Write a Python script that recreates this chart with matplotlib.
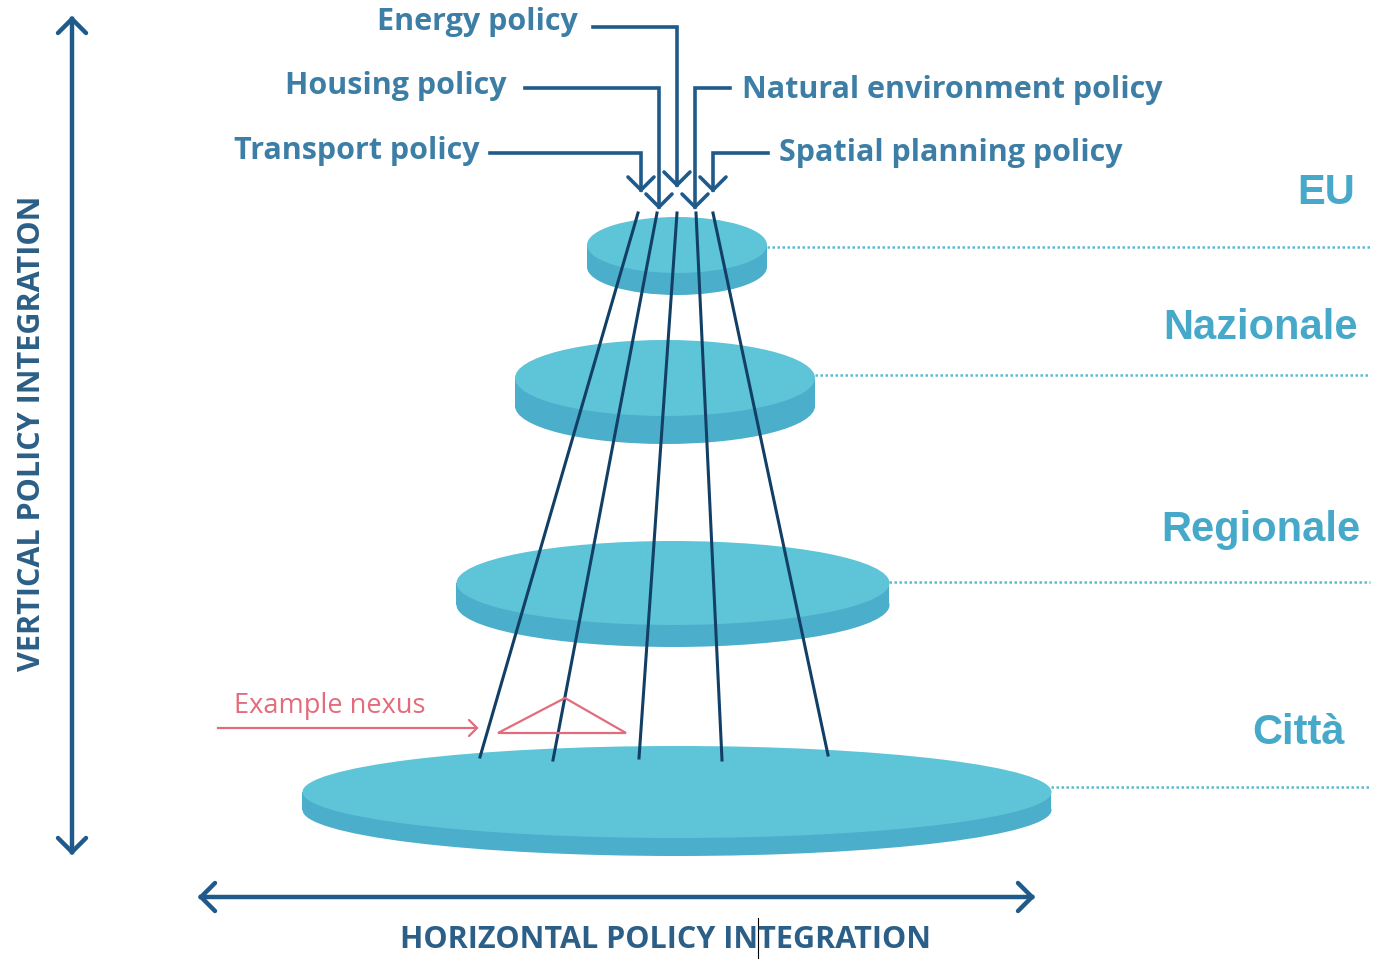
import numpy as np
import matplotlib.pyplot as plt
from matplotlib.patches import Ellipse, Rectangle, Polygon

# livelli di governo (dischi)
levels = ['EU', 'Nazionale', 'Regionale', 'Città']
disc_cx = [677, 665, 673, 677]
disc_cy = [245, 378, 583, 792]
disc_w = [180, 300, 433, 749]
disc_h = [56, 76, 84, 92]
disc_t = [22, 28, 22, 18]
label_x = [1355, 1358, 1360, 1345]
label_y = [193, 328, 530, 733]
dot_y = [247, 375, 582, 787]

# politiche settoriali
policies = ['Energy policy', 'Housing policy', 'Transport policy',
            'Natural environment policy', 'Spatial planning policy']
pol_side = ['left', 'left', 'left', 'right', 'right']
pol_text_x = [578, 507, 480, 742, 779]
pol_text_y = [22, 86, 151, 90, 153]
pol_line_y = [27, 88, 153, 88, 153]
pol_start_x = [593, 525, 490, 730, 768]
pol_down_x = [677, 659, 641, 695, 713]
pol_tip_y = [185, 207, 190, 207, 190]

# linee che attraversano i livelli
line_top_x = [638, 657, 677, 696, 713]
line_top_y = [213, 213, 213, 213, 213]
line_bot_x = [480, 553, 639, 722, 828]
line_bot_y = [757, 760, 758, 760, 755]

nexus_x = [498, 565, 626]
nexus_y = [733, 698, 733]

top_col = '#5ec4d8'
side_col = '#4baecb'
navy = '#1f5a8a'
dark = '#123f66'
txt_col = '#3d7ea6'
lvl_col = '#47a9c9'
pink = '#e26c7c'


def chevron(ax, x, y, direction, size=13, color=navy, lw=2.6):
    # punta aperta a "V"
    if direction == 'down':
        xs, ys = [x - size, x, x + size], [y - size, y, y - size]
    elif direction == 'up':
        xs, ys = [x - size, x, x + size], [y + size, y, y + size]
    elif direction == 'left':
        xs, ys = [x + size, x, x + size], [y - size, y, y + size]
    else:
        xs, ys = [x - size, x, x - size], [y - size, y, y + size]
    ax.plot(xs, ys, color=color, lw=lw, solid_capstyle='round',
            solid_joinstyle='miter', zorder=6)


fig = plt.figure(figsize=(13.75, 9.59), dpi=100)
ax = fig.add_axes([0, 0, 1, 1])
ax.set_xlim(0, 1375)
ax.set_ylim(959, 0)
ax.axis('off')

# dischi
for i in range(len(levels)):
    cx, cy, w, h, t = disc_cx[i], disc_cy[i], disc_w[i], disc_h[i], disc_t[i]
    ax.add_patch(Ellipse((cx, cy + t), w, h, facecolor=side_col, edgecolor='none', zorder=2))
    ax.add_patch(Rectangle((cx - w / 2, cy), w, t, facecolor=side_col, edgecolor='none', zorder=2))
    ax.add_patch(Ellipse((cx, cy), w, h, facecolor=top_col, edgecolor='none', zorder=3))
    ax.plot([cx + w / 2, 1370], [dot_y[i], dot_y[i]], color='#5bbccd', lw=1.8,
            linestyle=(0, (1, 1)), zorder=1)
    ax.text(label_x[i], label_y[i], levels[i], color=lvl_col, fontsize=30,
            fontweight='bold', family='Liberation Sans', ha='right', va='center')

# linee delle politiche
for i in range(len(line_top_x)):
    ax.plot([line_top_x[i], line_bot_x[i]], [line_top_y[i], line_bot_y[i]],
            color=dark, lw=2.2, zorder=4)

# frecce delle politiche
for i in range(len(policies)):
    ax.plot([pol_start_x[i], pol_down_x[i], pol_down_x[i]],
            [pol_line_y[i], pol_line_y[i], pol_tip_y[i]],
            color=navy, lw=2.6, solid_joinstyle='miter', zorder=5)
    chevron(ax, pol_down_x[i], pol_tip_y[i], 'down', size=13)
    ha = 'right' if pol_side[i] == 'left' else 'left'
    ax.text(pol_text_x[i], pol_text_y[i], policies[i], color=txt_col, fontsize=22,
            fontweight='bold', family='Open Sans', ha=ha, va='center')

# esempio di nesso
ax.add_patch(Polygon(np.column_stack([nexus_x, nexus_y]), closed=True, fill=False,
                     edgecolor=pink, lw=1.6, zorder=5))
ax.plot([218, 476], [728, 728], color=pink, lw=1.6, zorder=5)
chevron(ax, 477, 728, 'right', size=8, color=pink, lw=1.6)
ax.text(234, 706, 'Example nexus', color=pink, fontsize=19.5, family='Open Sans',
        ha='left', va='center')

# assi
ax.plot([72, 72], [19, 852], color=navy, lw=3.2, zorder=5)
chevron(ax, 72, 19, 'up', size=14, lw=3.2)
chevron(ax, 72, 852, 'down', size=14, lw=3.2)
ax.text(32, 433, 'VERTICAL POLICY INTEGRATION', color='#2b5f87', fontsize=22,
        fontweight='bold', family='Open Sans', rotation=90, ha='center', va='center')

ax.plot([201, 1032], [897, 897], color=navy, lw=3.2, zorder=5)
chevron(ax, 201, 897, 'left', size=14, lw=3.2)
chevron(ax, 1032, 897, 'right', size=14, lw=3.2)
ax.text(666, 940, 'HORIZONTAL POLICY INTEGRATION', color='#2b5f87', fontsize=22,
        fontweight='bold', family='Open Sans', ha='center', va='center')
ax.plot([758, 758], [918, 959], color='black', lw=0.8)

fig.savefig('out.png', dpi=100)
